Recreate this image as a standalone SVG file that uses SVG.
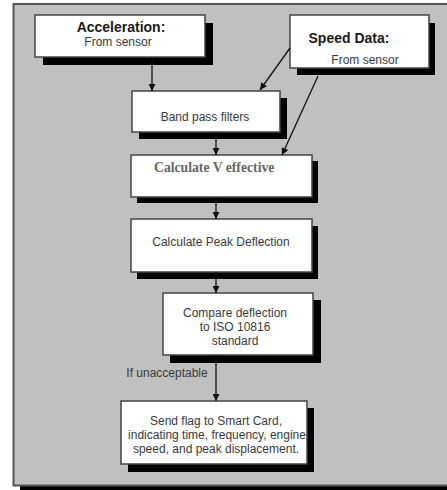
<svg xmlns="http://www.w3.org/2000/svg" width="447" height="490" viewBox="0 0 447 490">
<defs>
<style>
.sh{fill:#000}
.bx{fill:#fff;stroke:#444;stroke-width:1.5}
.t{font-family:"Liberation Sans",Arial,sans-serif;fill:#3a3a3a;text-anchor:middle}
.b{font-weight:bold;fill:#1a1a1a;font-size:14px}
.s{font-size:12px}
.sf{font-family:"Liberation Serif","Times New Roman",serif;font-size:13.7px;font-weight:bold;fill:#666;text-anchor:start}
.c{stroke:#111;stroke-width:1.3;fill:none;marker-end:url(#ah)}
</style>
<marker id="ah" viewBox="0 0 10 10" refX="10" refY="5" markerWidth="8" markerHeight="7" markerUnits="userSpaceOnUse" orient="auto">
<path d="M0,0 L10,5 L0,10 z" fill="#111"/>
</marker>
</defs>
<rect x="0" y="0" width="447" height="490" fill="#fff"/>
<rect x="20" y="486" width="427" height="4" fill="#000"/>
<rect x="13.5" y="4" width="440" height="481.5" fill="#c0c0c0" stroke="#555" stroke-width="2"/>

<g id="accel">
<rect class="sh" x="43" y="23" width="170" height="42"/>
<rect class="bx" x="35" y="15" width="170" height="42"/>
<text class="t b" x="121" y="32">Acceleration:</text>
<text class="t s" x="118" y="46">From sensor</text>
</g>
<g id="speed">
<rect class="sh" x="297" y="23" width="138" height="52"/>
<rect class="bx" x="290" y="15" width="139" height="53"/>
<text class="t b" x="349" y="43">Speed Data:</text>
<text class="t s" x="365" y="64">From sensor</text>
</g>
<g id="bandpass">
<rect class="sh" x="139" y="98" width="148" height="41"/>
<rect class="bx" x="132" y="91" width="148" height="41"/>
<text class="t s" x="205" y="121">Band pass filters</text>
</g>
<g id="calcv">
<rect class="sh" x="137" y="161" width="181" height="42"/>
<rect class="bx" x="131" y="155" width="181" height="42"/>
<text class="sf" x="154" y="172">Calculate V effective</text>
</g>
<g id="peak">
<rect class="sh" x="137" y="226" width="181" height="53"/>
<rect class="bx" x="131" y="219" width="181" height="53"/>
<text class="t s" x="221" y="246">Calculate Peak Deflection</text>
</g>
<g id="compare">
<rect class="sh" x="170" y="300" width="151" height="63"/>
<rect class="bx" x="163" y="293" width="150" height="62"/>
<text class="t s" x="235" y="317">Compare deflection</text>
<text class="t s" x="235" y="331">to ISO 10816</text>
<text class="t s" x="235" y="345">standard</text>
</g>
<g id="sendflag">
<rect class="sh" x="128" y="408" width="186" height="64"/>
<rect class="bx" x="121" y="401" width="186" height="63"/>
<text class="t s" x="216" y="425">Send flag to Smart Card,</text>
<text class="t s" x="217" y="439">indicating time, frequency, engine</text>
<text class="t s" x="216" y="453">speed, and peak displacement.</text>
</g>

<g id="connectors">
<line class="c" x1="152" y1="57" x2="152" y2="91"/>
<line class="c" x1="290" y1="48" x2="260" y2="90"/>
<line class="c" x1="318" y1="76" x2="282" y2="155"/>
<line class="c" x1="216" y1="132" x2="216" y2="155"/>
<line class="c" x1="216" y1="197" x2="216" y2="219"/>
<line class="c" x1="216" y1="272" x2="216" y2="293"/>
<line class="c" x1="216" y1="355" x2="216" y2="401"/>
<text class="t s" x="167" y="377">If unacceptable</text>
</g>
</svg>
